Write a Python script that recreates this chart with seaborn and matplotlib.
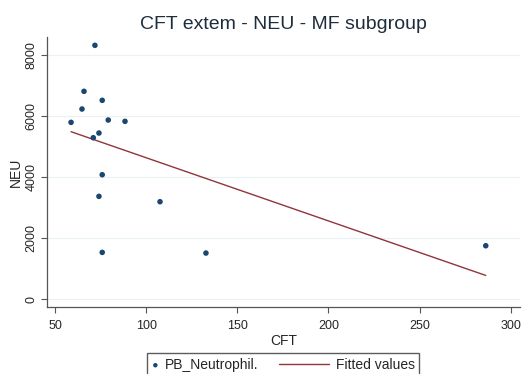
import numpy as np
import pandas as pd
import seaborn as sns
import matplotlib.pyplot as plt
from matplotlib.legend_handler import HandlerLine2D

# CFT vs peripheral blood neutrophils, MF subgroup
cft = [71.9, 65.9, 75.9, 64.8, 58.8, 79.2, 88.4, 74.1, 71.0, 75.9, 74.1, 107.6, 75.9, 132.8, 286.3]
neu = [8318, 6810, 6515, 6230, 5793, 5869, 5826, 5443, 5289, 4076, 3367, 3191, 1530, 1508, 1748]

x_ticks = [50, 100, 150, 200, 250, 300]
y_ticks = [0, 2000, 4000, 6000, 8000]

df = pd.DataFrame({"CFT": cft, "NEU": neu})

# linear fit over observed range
slope, intercept = np.polyfit(df["CFT"], df["NEU"], 1)
fit = pd.DataFrame({"CFT": [df["CFT"].min(), df["CFT"].max()]})
fit["NEU"] = intercept + slope * fit["CFT"]

sns.set_style("white")
plt.rcParams["font.family"] = ["Liberation Sans", "DejaVu Sans"]


class LongLineHandler(HandlerLine2D):
    """Legend line key that reaches further left than the shared handle box."""
    def get_xdata(self, legend, xdescent, ydescent, width, height, fontsize):
        x = np.array([-xdescent - 3.1 * fontsize, -xdescent + width])
        return x, x


fig = plt.figure(figsize=(5.31, 3.74), dpi=100)
ax = fig.add_axes([0.0885, 0.179, 0.8905, 0.722])

navy = "#1a476f"
maroon = "#90353b"

sns.scatterplot(data=df, x="CFT", y="NEU", ax=ax, color=navy, s=16,
                edgecolor="none", label="PB_Neutrophil.", zorder=3)
sns.lineplot(data=fit, x="CFT", y="NEU", ax=ax, color=maroon, linewidth=1.0,
             label="Fitted values", zorder=2)

ax.set_xlim(45.6, 305)
ax.set_ylim(-262, 8590)
ax.set_xticks(x_ticks)
ax.set_yticks(y_ticks)
ax.set_yticklabels([str(v) for v in y_ticks], rotation=90, va="center")
ax.tick_params(axis="both", labelsize=9, length=4, width=0.8, color="#555555",
               direction="out", bottom=True, left=True)
ax.tick_params(axis="x", pad=5)
ax.tick_params(axis="y", pad=3)
ax.grid(axis="y", color="#eaf2f3", linewidth=0.9)
ax.set_axisbelow(True)

for s in ["top", "right"]:
    ax.spines[s].set_visible(False)
for s in ["left", "bottom"]:
    ax.spines[s].set_color("#555555")
    ax.spines[s].set_linewidth(0.9)

ax.set_xlabel("CFT", fontsize=10, labelpad=2)
ax.set_ylabel("NEU", fontsize=10, labelpad=2)
ax.set_title("CFT extem - NEU - MF subgroup", fontsize=14, color="#1e2d3d", pad=6)

handles, labels = ax.get_legend_handles_labels()
line_handle = handles[1]
ax.legend(handles, labels, loc="upper left",
          bbox_to_anchor=(147 / 531, 1 - 353 / 374), bbox_transform=fig.transFigure,
          borderaxespad=0, ncol=2, fontsize=10, frameon=True, fancybox=False,
          edgecolor="#333333", handlelength=0.5, handletextpad=0.45,
          columnspacing=4.6, borderpad=0.35, markerscale=0.8,
          handler_map={line_handle: LongLineHandler()})

fig.savefig("out.png", dpi=100)
